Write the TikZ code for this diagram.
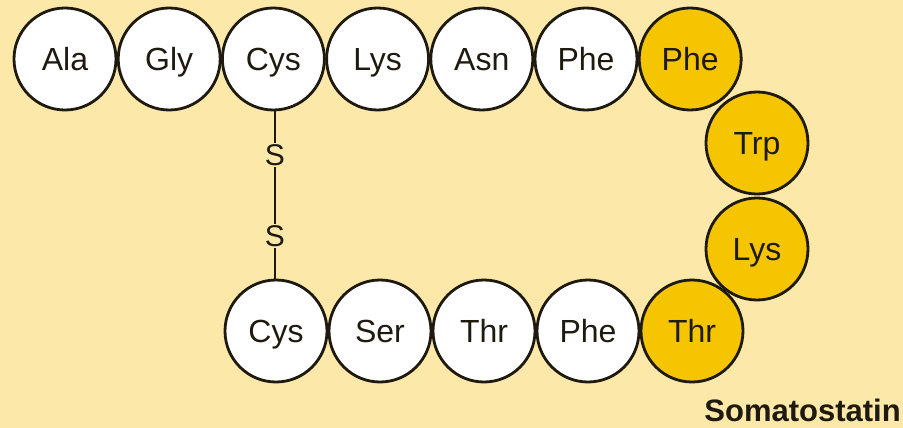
\documentclass[tikz,border=0pt]{standalone}
\usepackage{fontspec}
\setmainfont{Liberation Sans}
\definecolor{bgyellow}{HTML}{FCE8A8}
\definecolor{gold}{HTML}{F4C500}
\definecolor{ink}{HTML}{1E1A10}
\tikzset{
  residue/.style={circle, draw=ink, line width=2.8pt, minimum size=102pt, inner sep=0pt,
    fill=white, text=ink, font=\fontsize{32}{32}\selectfont, text height=23pt, text depth=0pt},
  goldres/.style={residue, fill=gold},
  sulfur/.style={fill=bgyellow, text=ink, inner sep=1.5pt, font=\fontsize{30}{30}\selectfont,
    text height=21.5pt, text depth=0pt},
  bond/.style={draw=ink, line width=2.6pt},
  caption/.style={anchor=base east, text=ink, inner sep=0pt, font=\bfseries\fontsize{31}{31}\selectfont}
}
\begin{document}
\begin{tikzpicture}[x=1pt,y=-1pt]
\fill[bgyellow] (0,0) rectangle (903,428);
\useasboundingbox (0,0) rectangle (903,428);
% top row
\node[residue] (a1) at (65,59) {Ala};
\node[residue] (a2) at (169.2,59) {Gly};
\node[residue] (a3) at (273.4,59) {Cys};
\node[residue] (a4) at (377.6,59) {Lys};
\node[residue] (a5) at (481.8,59) {Asn};
\node[residue] (a6) at (586,59) {Phe};
\node[goldres] (a7) at (690.2,59) {Phe};
% right side
\node[goldres] (a8) at (757,143) {Trp};
\node[goldres] (a9) at (757,249) {Lys};
% bottom row
\node[goldres] (a10) at (692,331) {Thr};
\node[residue] (a11) at (588,331) {Phe};
\node[residue] (a12) at (484,331) {Thr};
\node[residue] (a13) at (380,331) {Ser};
\node[residue] (a14) at (276,331) {Cys};
% disulfide bridge
\node[sulfur] (s1) at (275,155) {S};
\node[sulfur] (s2) at (275,236) {S};
\draw[bond] (a3.south -| s1) -- (s1);
\draw[bond] (s1) -- (s2);
\draw[bond] (s2) -- (a14.north -| s2);
% caption
\node[caption] (cap) at (901,421) {Somatostatin};
\end{tikzpicture}
\end{document}
